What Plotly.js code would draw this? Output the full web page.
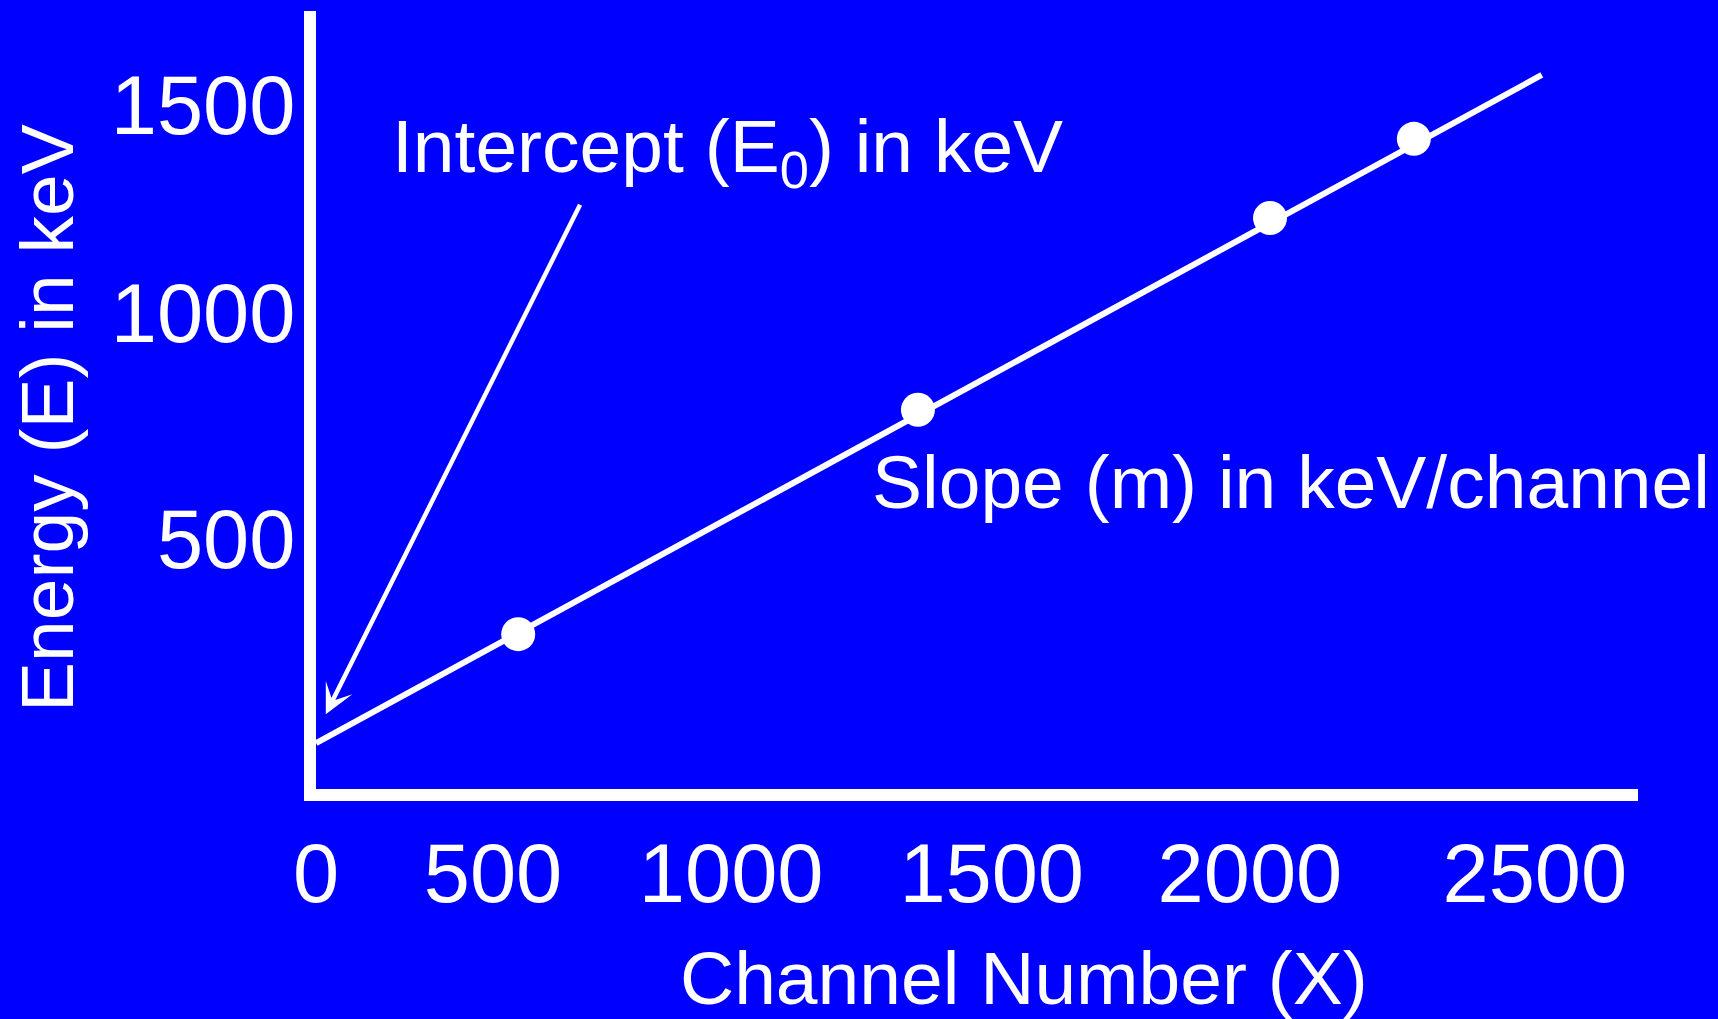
<!DOCTYPE html>
<html><head><meta charset="utf-8">
<script src="https://cdn.plot.ly/plotly-3.0.1.min.js"></script>
<style>html,body{margin:0;padding:0;background:#0000ff;overflow:hidden;} #chart{width:1718px;height:1019px;}</style>
</head><body><div id="chart"></div>
<script>
// Tick labels are printed where the slide prints them (axis units are linear along the drawn axes)
const xTickVals = [0, 379, 889, 1447, 2000, 2610];
const xTickText = ['0', '500', '1000', '1500', '2000', '2500'];
const yTickVals = [528, 1006, 1444];
const yTickText = ['500', '1000', '1500'];

// Calibration points (channel, energy) in axis units
const pointX = [433, 1289, 2043, 2351];
const pointY = [327, 801, 1206, 1373];

// Calibration line end points
const lineX = [0, 2625];
const lineY = [97, 1508];

// Intercept arrow tip
const arrowTipX = [21];
const arrowTipY = [158];

const xRange = [0, 2831];
const yRange = [0, 1643];

const xTitle = 'Channel Number (X)';
const yTitle = 'Energy (E) in keV';

const WHITE = '#ffffff';
const BLUE = '#0000ff';
const FONT = '"Liberation Sans", Arial, Helvetica, sans-serif';

const traces = [
  {
    type: 'scatter', mode: 'lines', x: lineX, y: lineY,
    line: {color: WHITE, width: 6}, hoverinfo: 'skip', cliponaxis: false
  },
  {
    type: 'scatter', mode: 'markers', x: pointX, y: pointY,
    marker: {color: WHITE, size: 34, line: {width: 0}}, hoverinfo: 'skip', cliponaxis: false
  }
];

const layout = {
  width: 1718, height: 1019,
  paper_bgcolor: BLUE, plot_bgcolor: BLUE,
  margin: {l: 316, r: 80, t: 11, b: 230, pad: 0},
  showlegend: false,
  font: {family: FONT, color: WHITE},
  xaxis: {
    range: xRange, showline: true, linecolor: WHITE, linewidth: 12,
    ticks: '', tickvals: xTickVals, ticktext: xTickText,
    tickfont: {size: 83, color: WHITE, family: FONT},
    ticklabelstandoff: 1,
    showgrid: false, zeroline: false, fixedrange: true
  },
  yaxis: {
    range: yRange, showline: true, linecolor: WHITE, linewidth: 12,
    ticks: '', tickvals: yTickVals, ticktext: yTickText,
    tickfont: {size: 83, color: WHITE, family: FONT},
    ticklabelstandoff: -8,
    showgrid: false, zeroline: false, fixedrange: true
  },
  annotations: [
    {
      text: xTitle, x: 0.5356, y: -0.2429, xref: 'paper', yref: 'paper',
      xanchor: 'center', yanchor: 'middle', showarrow: false,
      font: {size: 75, color: WHITE, family: FONT}
    },
    {
      text: yTitle, x: -0.2035, y: 0.4769, xref: 'paper', yref: 'paper',
      xanchor: 'center', yanchor: 'middle', showarrow: false, textangle: -90,
      font: {size: 75, color: WHITE, family: FONT}
    },
    {
      text: 'Intercept (E<sub>0</sub>) in keV', x: 159, y: 1347, xref: 'x', yref: 'y',
      xanchor: 'left', yanchor: 'middle', showarrow: false,
      font: {size: 75, color: WHITE, family: FONT}
    },
    {
      text: 'Slope (m) in keV/channel', x: 1186, y: 648, xref: 'x', yref: 'y',
      xanchor: 'left', yanchor: 'middle', showarrow: false,
      font: {size: 75, color: WHITE, family: FONT}
    },
    {
      text: '', x: arrowTipX[0], y: arrowTipY[0], xref: 'x', yref: 'y',
      showarrow: true, ax: 255, ay: -511, axref: 'pixel', ayref: 'pixel',
      arrowcolor: WHITE, arrowwidth: 4.5, arrowhead: 3, arrowsize: 1.1, standoff: 0
    }
  ]
};

Plotly.newPlot('chart', traces, layout, {displayModeBar: false, staticPlot: true});
</script>
</body></html>
